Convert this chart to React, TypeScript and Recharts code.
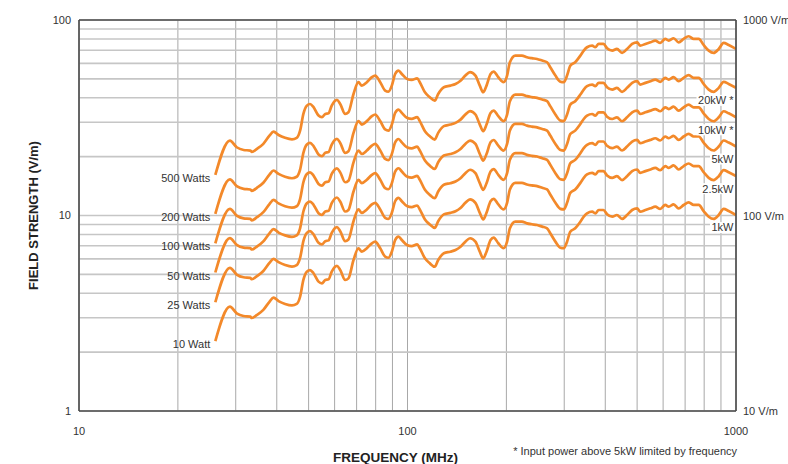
import React from "react";
import {
  LineChart, Line, XAxis, YAxis, CartesianGrid, ReferenceLine, ReferenceDot, Label
} from "recharts";

// Frequency points (MHz)
const freqMHz = [
  26, 28.8, 30.2, 31.7, 33.2, 33.6, 34.8, 36.4, 38, 39.1,
  40.5, 42.4, 44.5, 46, 47.1, 48.2, 49.4, 50.5, 51.7, 53.6,
  54.9, 56.2, 57.5, 58.8, 61, 62.4, 64.6, 66.1, 68.5, 70.9,
  72.6, 75.2, 77.9, 79.7, 82.6, 85.5, 87.5, 89.6, 91.7, 93.9,
  96.1, 99.6, 103, 107, 109, 113, 117, 121, 124, 129,
  135, 140, 145, 150, 155, 161, 166, 170, 174, 179,
  183, 189, 196, 201, 205, 213, 223, 231, 239, 248,
  257, 266, 272, 282, 292, 299, 306, 313, 324, 336,
  344, 352, 365, 373, 382, 395, 405, 420, 434, 450,
  466, 483, 500, 511, 530, 549, 568, 588, 609, 624,
  646, 669, 693, 718, 743, 770, 797, 826, 855, 886, 917, 950, 1000
];

// Field strength (V/m) per input power
const w10 = [
  2.28, 3.42, 3.16, 3.06, 3.04, 2.99, 3.10, 3.29, 3.62, 3.80,
  3.65, 3.53, 3.47, 3.53, 3.84, 4.68, 5.16, 5.26, 5.08, 4.59,
  4.50, 4.68, 4.72, 5.16, 5.52, 5.26, 4.68, 4.77, 5.92, 6.80,
  6.53, 6.80, 7.21, 7.35, 6.80, 6.16, 6.08, 6.53, 7.49, 7.79,
  7.49, 7.07, 6.98, 7.12, 6.80, 6.04, 5.69, 5.47, 5.92, 6.41,
  6.53, 6.66, 6.92, 7.35, 7.65, 7.35, 6.53, 6.04, 6.53, 7.49,
  7.70, 7.21, 6.80, 7.35, 8.60, 9.30, 9.30, 9.12, 9.02, 8.94,
  8.77, 8.60, 8.11, 7.35, 6.84, 6.80, 7.35, 8.26, 8.60, 9.30,
  9.86, 10.26, 10.46, 10.26, 10.67, 10.67, 10.14, 9.86, 10.06, 9.60,
  10.06, 10.67, 10.88, 10.46, 10.67, 10.88, 11.09, 10.80, 11.32, 11.09,
  11.41, 10.88, 11.32, 11.68, 11.32, 11.32, 10.54, 9.86, 9.60, 10.06, 10.80, 10.54, 10.06
];
const w25 = [
  3.60, 5.40, 4.99, 4.83, 4.80, 4.72, 4.90, 5.20, 5.72, 6.00,
  5.77, 5.58, 5.48, 5.58, 6.07, 7.39, 8.15, 8.31, 8.03, 7.25,
  7.11, 7.39, 7.46, 8.15, 8.72, 8.31, 7.39, 7.54, 9.35, 10.74,
  10.32, 10.74, 11.39, 11.61, 10.74, 9.73, 9.61, 10.32, 11.83, 12.31,
  11.83, 11.17, 11.03, 11.25, 10.74, 9.54, 8.99, 8.64, 9.35, 10.13,
  10.32, 10.52, 10.93, 11.61, 12.09, 11.61, 10.32, 9.54, 10.32, 11.83,
  12.17, 11.39, 10.74, 11.61, 13.59, 14.69, 14.69, 14.41, 14.25, 14.13,
  13.86, 13.59, 12.81, 11.61, 10.81, 10.74, 11.61, 13.05, 13.59, 14.69,
  15.58, 16.21, 16.53, 16.21, 16.86, 16.86, 16.02, 15.58, 15.89, 15.17,
  15.89, 16.86, 17.19, 16.53, 16.86, 17.19, 17.52, 17.06, 17.89, 17.52,
  18.03, 17.19, 17.89, 18.45, 17.89, 17.89, 16.65, 15.58, 15.17, 15.89, 17.06, 16.65, 15.89
];
const w50 = [
  5.11, 7.66, 7.08, 6.85, 6.81, 6.70, 6.94, 7.37, 8.11, 8.51,
  8.18, 7.91, 7.77, 7.91, 8.60, 10.48, 11.56, 11.78, 11.38, 10.28,
  10.08, 10.48, 10.57, 11.56, 12.36, 11.78, 10.48, 10.68, 13.26, 15.23,
  14.63, 15.23, 16.15, 16.46, 15.23, 13.80, 13.62, 14.63, 16.78, 17.45,
  16.78, 15.84, 15.64, 15.95, 15.23, 13.53, 12.75, 12.25, 13.26, 14.36,
  14.63, 14.92, 15.50, 16.46, 17.14, 16.46, 14.63, 13.53, 14.63, 16.78,
  17.25, 16.15, 15.23, 16.46, 19.26, 20.83, 20.83, 20.43, 20.20, 20.03,
  19.64, 19.26, 18.17, 16.46, 15.32, 15.23, 16.46, 18.50, 19.26, 20.83,
  22.09, 22.98, 23.43, 22.98, 23.90, 23.90, 22.71, 22.09, 22.53, 21.50,
  22.53, 23.90, 24.37, 23.43, 23.90, 24.37, 24.84, 24.19, 25.36, 24.84,
  25.56, 24.37, 25.36, 26.16, 25.36, 25.36, 23.61, 22.09, 21.50, 22.53, 24.19, 23.61, 22.53
];
const w100 = [
  7.20, 10.81, 9.99, 9.67, 9.61, 9.45, 9.80, 10.40, 11.44, 12.01,
  11.53, 11.15, 10.97, 11.15, 12.13, 14.79, 16.31, 16.62, 16.05, 14.50,
  14.22, 14.79, 14.92, 16.31, 17.44, 16.62, 14.79, 15.07, 18.71, 21.49,
  20.63, 21.49, 22.78, 23.23, 21.49, 19.47, 19.21, 20.63, 23.67, 24.62,
  23.67, 22.34, 22.06, 22.50, 21.49, 19.09, 17.98, 17.29, 18.71, 20.26,
  20.63, 21.05, 21.87, 23.23, 24.17, 23.23, 20.63, 19.09, 20.63, 23.67,
  24.33, 22.78, 21.49, 23.23, 27.18, 29.39, 29.39, 28.82, 28.50, 28.25,
  27.71, 27.18, 25.63, 23.23, 21.61, 21.49, 23.23, 26.10, 27.18, 29.39,
  31.16, 32.42, 33.05, 32.42, 33.72, 33.72, 32.04, 31.16, 31.79, 30.34,
  31.79, 33.72, 34.38, 33.05, 33.72, 34.38, 35.04, 34.13, 35.77, 35.04,
  36.06, 34.38, 35.77, 36.91, 35.77, 35.77, 33.31, 31.16, 30.34, 31.79, 34.13, 33.31, 31.79
];
const w200 = [
  10.19, 15.29, 14.13, 13.68, 13.59, 13.37, 13.86, 14.71, 16.18, 16.99,
  16.32, 15.78, 15.51, 15.78, 17.16, 20.92, 23.07, 23.51, 22.71, 20.52,
  20.12, 20.92, 21.10, 23.07, 24.67, 23.51, 20.92, 21.32, 26.46, 30.40,
  29.19, 30.40, 32.23, 32.85, 30.40, 27.54, 27.18, 29.19, 33.48, 34.82,
  33.48, 31.60, 31.20, 31.83, 30.40, 27.00, 25.43, 24.45, 26.46, 28.65,
  29.19, 29.77, 30.93, 32.85, 34.20, 32.85, 29.19, 27.00, 29.19, 33.48,
  34.42, 32.23, 30.40, 32.85, 38.44, 41.57, 41.57, 40.77, 40.32, 39.96,
  39.20, 38.44, 36.25, 32.85, 30.57, 30.40, 32.85, 36.92, 38.44, 41.57,
  44.07, 45.86, 46.76, 45.86, 47.69, 47.69, 45.33, 44.07, 44.97, 42.91,
  44.97, 47.69, 48.63, 46.76, 47.69, 48.63, 49.57, 48.28, 50.60, 49.57,
  51.00, 48.63, 50.60, 52.21, 50.60, 50.60, 47.11, 44.07, 42.91, 44.97, 48.28, 47.11, 44.97
];
const w500 = [
  16.12, 24.18, 22.34, 21.63, 21.49, 21.14, 21.92, 23.26, 25.59, 26.87,
  25.81, 24.96, 24.53, 24.96, 27.15, 33.09, 36.48, 37.19, 35.92, 32.45,
  31.82, 33.09, 33.37, 36.48, 39.03, 37.19, 33.09, 33.72, 41.85, 48.08,
  46.17, 48.08, 50.97, 51.96, 48.08, 43.55, 42.99, 46.17, 52.95, 55.08,
  52.95, 49.98, 49.35, 50.34, 48.08, 42.70, 40.23, 38.67, 41.85, 45.32,
  46.17, 47.09, 48.92, 51.96, 54.09, 51.96, 46.17, 42.70, 46.17, 52.95,
  54.44, 50.97, 48.08, 51.96, 60.80, 65.75, 65.75, 64.48, 63.77, 63.21,
  62.00, 60.80, 57.34, 51.96, 48.36, 48.08, 51.96, 58.40, 60.80, 65.75,
  69.71, 72.54, 73.95, 72.54, 75.44, 75.44, 71.69, 69.71, 71.12, 67.87,
  71.12, 75.44, 76.92, 73.95, 75.44, 76.92, 78.41, 76.36, 80.03, 78.41,
  80.67, 76.92, 80.03, 82.58, 80.03, 80.03, 74.52, 69.71, 67.87, 71.12, 76.36, 74.52, 71.12
];

const seriesValues = [w10, w25, w50, w100, w200, w500];
const seriesKeys = ["w10", "w25", "w50", "w100", "w200", "w500"];
const leftLabels = ["10 Watt", "25 Watts", "50 Watts", "100 Watts", "200 Watts", "500 Watts"];
const rightLabels = ["1kW", "2.5kW", "5kW", "10kW *", "20kW *", ""];

const xGridTicks = [10, 20, 30, 40, 50, 60, 70, 80, 90, 100, 200, 300, 400, 500, 600, 700, 800, 900, 1000];
const xLabelTicks = [10, 100, 1000];
const yGridTicks = [1, 2, 3, 4, 5, 6, 7, 8, 9, 10, 20, 30, 40, 50, 60, 70, 80, 90, 100];
const yLabelTicks = [1, 10, 100];
const rightTicks = [10, 100, 1000];

const ORANGE = "#f3892a";
const FRAME = "#4a4a4a";
const TEXT = "#333";

const data = freqMHz.map((f, i) => {
  const row: any = { f };
  seriesKeys.forEach((k, s) => { row[k] = seriesValues[s][i]; });
  return row;
});

// rough text width at 11px, for the white boxes behind the right-hand tags
const charW: Record<string, number> = { W: 10.4, k: 5.5, ".": 3.1, "*": 4.3, " ": 3.1 };
const textWidth = (t: string) => t.split("").reduce((w, c) => w + (charW[c] ?? 6.1), 0);

const leftTag = (text: string) => (props: any) => {
  const vb = props.viewBox || {};
  const x = vb.x + (vb.width || 0) / 2;
  const y = vb.y + (vb.height || 0) / 2;
  return (
    <text x={x - 5} y={y + 3} textAnchor="end" dominantBaseline="central" fontSize={11} fill={TEXT}>
      {text}
    </text>
  );
};

const rightTag = (text: string) => (props: any) => {
  const vb = props.viewBox || {};
  const x = vb.x + (vb.width || 0) / 2;
  const y = vb.y + (vb.height || 0) / 2;
  const w = textWidth(text);
  const cy = y + 12.5;
  return (
    <g>
      <rect x={x - w - 4} y={cy - 5.5} width={w + 3} height={11} fill="#fff" />
      <text x={x - 2.5} y={cy} textAnchor="end" dominantBaseline="central" fontSize={11} fill={TEXT}>
        {text}
      </text>
    </g>
  );
};

const rightTick = (props: any) => {
  const { x, y, payload } = props;
  return (
    <text x={x - 1} y={y} dominantBaseline="central" textAnchor="start" fontSize={11} fill={TEXT}>
      {`${payload.value} V/m`}
    </text>
  );
};

const yTitle = (props: any) => {
  const vb = props.viewBox || { x: 0, y: 20, width: 79, height: 391 };
  const cx = vb.x + 33;
  const cy = vb.y + vb.height / 2;
  return (
    <text x={cx} y={cy} transform={`rotate(-90 ${cx} ${cy})`} textAnchor="middle" dominantBaseline="central"
      fontSize={13} fontWeight="bold" fill="#222">
      FIELD STRENGTH  (V/m)
    </text>
  );
};

const xTitle = (props: any) => {
  const vb = props.viewBox || { x: 79, y: 411, width: 657, height: 30 };
  return (
    <g>
      <text x={vb.x + vb.width / 2 - 12} y={vb.y + 51} textAnchor="middle" fontSize={13.5} fontWeight="bold" fill="#222">
        FREQUENCY (MHz)
      </text>
      <text x={vb.x + vb.width + 1} y={vb.y + 44} textAnchor="end" fontSize={11} fill={TEXT}>
        * Input power above 5kW limited by frequency
      </text>
    </g>
  );
};

export default function App() {
  return (
    <div style={{ position: "absolute", left: 0, top: 0, width: 788, height: 464, background: "#fff",
      fontFamily: '"Liberation Sans", Arial, Helvetica, sans-serif' }}>
      <LineChart width={788} height={464} data={data} margin={{ top: 20, right: 0, bottom: 23, left: 0 }}>
        <CartesianGrid horizontal={false} stroke="#a8a8a8" strokeWidth={1} />
        <CartesianGrid vertical={false} stroke="#c6c6c6" strokeWidth={1.6} />
        <XAxis dataKey="f" type="number" scale="log" domain={[10, 1000]} allowDataOverflow
          ticks={xGridTicks} interval={0} tickLine={false} tickMargin={10} height={30}
          tickFormatter={(v: number) => (xLabelTicks.includes(v) ? String(v) : "")}
          tick={{ fontSize: 11, fill: TEXT }} axisLine={{ stroke: FRAME, strokeWidth: 1.6 }}>
          <Label content={xTitle} />
        </XAxis>
        <YAxis type="number" scale="log" domain={[1, 100]} allowDataOverflow width={79}
          ticks={yGridTicks} interval={0} tickLine={false}
          tickFormatter={(v: number) => (yLabelTicks.includes(v) ? String(v) : "")}
          tick={{ fontSize: 11, fill: TEXT }} axisLine={{ stroke: FRAME, strokeWidth: 1.6 }}>
          <Label content={yTitle} />
        </YAxis>
        <YAxis yAxisId="right" orientation="right" type="number" scale="log" domain={[10, 1000]} allowDataOverflow
          width={52} ticks={rightTicks} interval={0} tickLine={false} tick={rightTick}
          axisLine={{ stroke: FRAME, strokeWidth: 1.6 }} />
        <ReferenceLine y={100} stroke={FRAME} strokeWidth={1.6} />
        {seriesKeys.map((k) => (
          <Line key={k} dataKey={k} type="monotone" stroke={ORANGE} strokeWidth={2.7}
            dot={false} activeDot={false} isAnimationActive={false} />
        ))}
        {seriesKeys.map((k, s) => (
          <ReferenceDot key={`l-${k}`} x={freqMHz[0]} y={seriesValues[s][0]} r={1} fill="none" stroke="none">
            <Label content={leftTag(leftLabels[s])} />
          </ReferenceDot>
        ))}
        {seriesKeys.map((k, s) => rightLabels[s] ? (
          <ReferenceDot key={`r-${k}`} x={freqMHz[freqMHz.length - 1]} y={seriesValues[s][freqMHz.length - 1]}
            r={1} fill="none" stroke="none">
            <Label content={rightTag(rightLabels[s])} />
          </ReferenceDot>
        ) : null)}
      </LineChart>
    </div>
  );
}
